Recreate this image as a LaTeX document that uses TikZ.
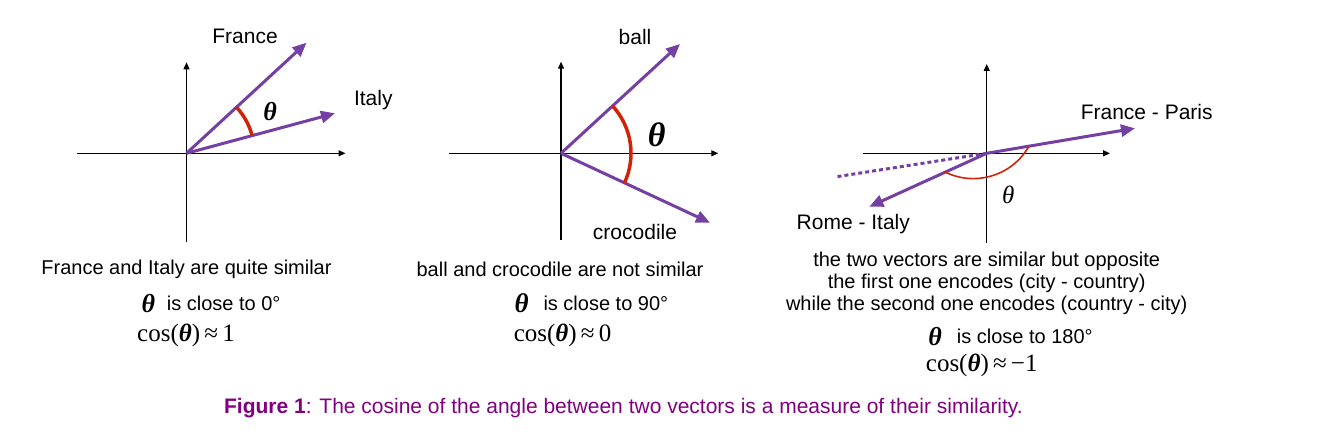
\documentclass[tikz,border=0pt]{standalone}
\usepackage{fontspec}
\setmainfont{Liberation Sans}
\newfontfamily\tmsfont{Liberation Serif}
\usetikzlibrary{arrows.meta}

\definecolor{vecpurple}{RGB}{116,64,164}
\definecolor{arcred}{RGB}{208,36,8}
\definecolor{cappurple}{RGB}{128,0,128}

\newcommand{\bth}{{\tmsfont\bfseries\itshape θ}}

\tikzset{
  axis/.style={line width=1.3pt,-{Triangle[length=7pt,width=6pt]}},
  vec/.style={vecpurple,line width=3pt,-{Triangle[length=14pt,width=12pt]}},
  anglearc/.style={arcred,line width=3.5pt},
  lbl/.style={font=\fontsize{21}{24}\selectfont,inner sep=0pt},
  desc/.style={font=\fontsize{20}{21.7}\selectfont,inner sep=0pt,align=center},
  thlbl/.style={inner sep=0pt},
  cosline/.style={font=\tmsfont\fontsize{25}{27}\selectfont,inner sep=0pt}
}

\begin{document}
\begin{tikzpicture}[x=1pt,y=1pt]
    \useasboundingbox (0,0) rectangle (1329,436);

    % left: close to 0 degrees
    \begin{scope}[shift={(186.5,282.7)}]
        \coordinate (o1) at (0,0);
        \coordinate (fr1) at (120,110.6);
        \coordinate (it1) at (148.5,40);
        \draw[axis] (-110,0) -- (159,0);
        \draw[axis] (0,-89) -- (0,91);
        \draw[vec] (o1) -- (fr1);
        \draw[vec] (o1) -- (it1);
        \draw[anglearc] (15.1:68) arc[start angle=15.1,end angle=42.7,radius=68];
        \node[lbl] (france1) at (58.5,116.6) {France};
        \node[lbl] (italy1) at (186.8,53.3) {Italy};
        \node[thlbl,font=\fontsize{26}{28}\selectfont] (th1) at (83.5,41.6) {\bth};
        \node[desc] (d1) at (0,-116) {France and Italy are quite similar};
        \node[thlbl,font=\fontsize{26}{28}\selectfont] (tha) at (-38.2,-150) {\bth};
        \node[desc,anchor=west] (ca) at (-19.8,-150) {is close to 0°};
        \node[cosline] (cos1) at (-0.5,-181.7) {cos(\bth)\,≈\,1};
    \end{scope}

    % middle: close to 90 degrees
    \begin{scope}[shift={(561,282.7)}]
        \coordinate (o2) at (0,0);
        \coordinate (ba2) at (119,109.3);
        \coordinate (cr2) at (149,-69.4);
        \draw[axis] (-111.7,0) -- (157.3,0);
        \draw[axis] (0,-86.7) -- (0,91.6);
        \draw[vec] (o2) -- (ba2);
        \draw[vec] (o2) -- (cr2);
        \draw[anglearc] (-25:70) arc[start angle=-25,end angle=42.6,radius=70];
        \node[lbl] (ball2) at (74,116.6) {ball};
        \node[lbl] (croc2) at (74,-78.4) {crocodile};
        \node[thlbl,font=\fontsize{34}{36}\selectfont] (th2) at (95.7,18.3) {\bth};
        \node[desc] (d2) at (-1,-116) {ball and crocodile are not similar};
        \node[thlbl,font=\fontsize{27}{28}\selectfont] (thb) at (-39.3,-150) {\bth};
        \node[desc,anchor=west] (cb) at (-17.7,-150) {is close to 90°};
        \node[cosline] (cos2) at (1.5,-181.7) {cos(\bth)\,≈\,0};
    \end{scope}

    % right: close to 180 degrees
    \begin{scope}[shift={(986.7,282.7)}]
        \coordinate (o3) at (0,0);
        \coordinate (fp3) at (148.3,25);
        \coordinate (ri3) at (-117.4,-53.4);
        \coordinate (dt3) at (-150,-23.4);
        \draw[axis] (-124,0) -- (123.3,0);
        \draw[axis] (0,-89.4) -- (0,89.3);
        \draw[vecpurple,line width=3pt,dash pattern=on 4pt off 3pt] (o3) -- (dt3);
        \draw[vec] (o3) -- (fp3);
        \draw[vec] (o3) -- (ri3);
        \draw[arcred,line width=1.6pt] (-13.4,38.7) ++(-30:64) arc[start angle=-30,end angle=-117,radius=64];
        \node[lbl] (fp3l) at (160,41.6) {France - Paris};
        \node[lbl] (ri3l) at (-133.4,-70.7) {Rome - Italy};
        \node[thlbl,font=\tmsfont\itshape\fontsize{25}{27}\selectfont] (th3) at (21.6,-41.7) {θ};
        \node[desc,anchor=north] (d3) at (0,-99) {the two vectors are similar but opposite\\the first one encodes (city - country)\\while the second one encodes (country - city)};
        \node[thlbl,font=\fontsize{26}{28}\selectfont] (thc) at (-51.7,-183.4) {\bth};
        \node[desc,anchor=west] (cc) at (-30,-183.4) {is close to 180°};
        \node[cosline] (cos3) at (-5,-211.7) {cos(\bth)\,≈\,−1};
    \end{scope}

    \node[font=\fontsize{21}{23}\selectfont,text=cappurple,inner sep=0pt] (cap) at (623.5,28)
        {\textbf{Figure 1}: The cosine of the angle between two vectors is a measure of their similarity.};
\end{tikzpicture}
\end{document}
